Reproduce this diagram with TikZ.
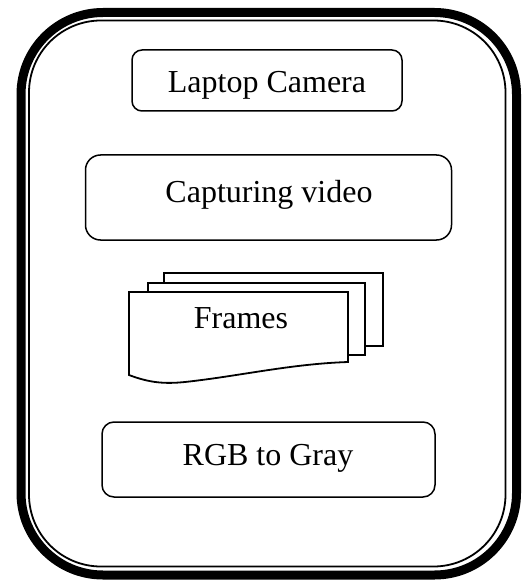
\documentclass[tikz,border=0pt]{standalone}
\usepackage{fontspec}
\setmainfont{Liberation Serif}
\begin{document}
\begin{tikzpicture}[x=1pt,y=-1pt,
  box/.style={draw=black, line width=1.5pt, fill=white, inner sep=0pt},
  sheet/.style={draw=black, line width=1.8pt, fill=white, line join=miter},
  txt/.style={font=\fontsize{32}{38}\selectfont, inner sep=0pt, anchor=base}]
\useasboundingbox (0,0) rectangle (523,580);
% outer double frame
\draw[line width=9pt, rounded corners=82pt] (21,12.5) rectangle (516.5,575);
\draw[line width=1.8pt, rounded corners=72pt] (29,20.5) rectangle (505.5,566.5);
% Laptop Camera
\node[box, rounded corners=10pt, minimum width=270pt, minimum height=61pt] (cam) at (267,80.5) {};
\node[txt] (camt) at (267,93) {Laptop Camera};
% Capturing video
\node[box, rounded corners=15pt, minimum width=366pt, minimum height=85pt] (cap) at (268.5,197.5) {};
\node[txt] (capt) at (269,202) {Capturing video};
% Frames (stacked documents)
\draw[sheet] (164,273) rectangle (383,346);
\draw[sheet] (148,283) rectangle (365,355);
\draw[sheet] (129,375) -- (129,292) -- (348,292) -- (348,362)
  .. controls (290,364) and (240,376) .. (185,382)
  .. controls (165,384) and (150,383) .. (129,375) -- cycle;
\node[txt] (frt) at (241,328) {Frames};
% RGB to Gray
\node[box, rounded corners=12pt, minimum width=333pt, minimum height=75pt] (rgb) at (268.5,459.5) {};
\node[txt] (rgbt) at (268,465) {RGB to Gray};
\end{tikzpicture}
\end{document}
